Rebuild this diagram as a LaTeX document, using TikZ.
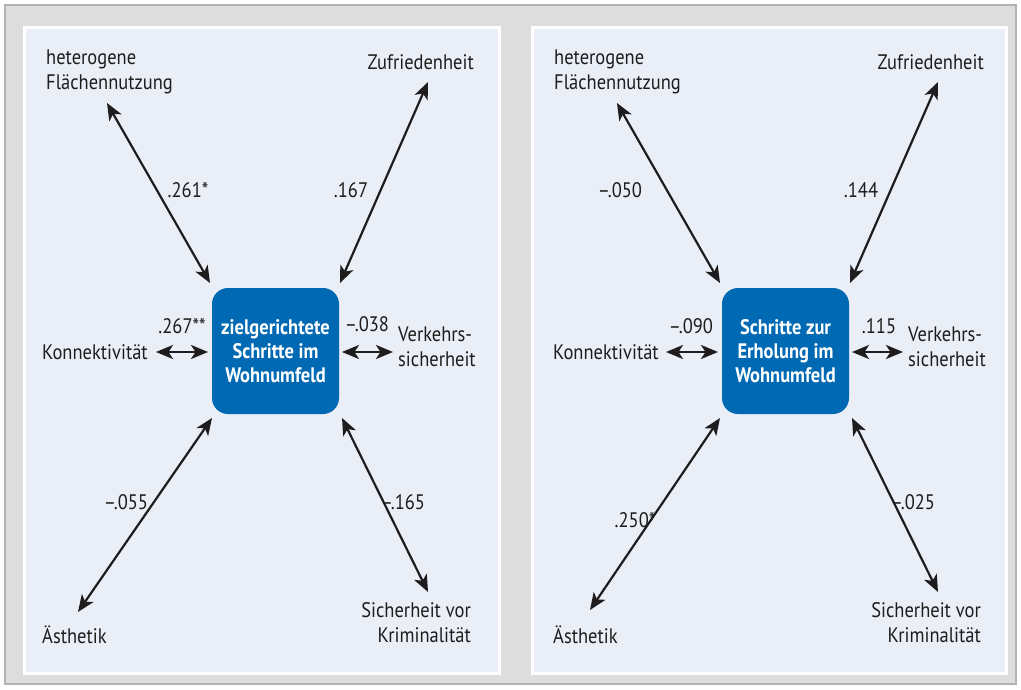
\documentclass[tikz,border=0pt]{standalone}
\usepackage{fontspec}
\setmainfont{PT Sans}[FakeStretch=0.88]
\usetikzlibrary{arrows.meta}
\definecolor{framegray}{HTML}{B2B2B2}
\definecolor{backgray}{HTML}{DDDDDD}
\definecolor{panelblue}{HTML}{E9EEF7}
\definecolor{boxblue}{HTML}{0069B4}
\definecolor{inkgray}{HTML}{1E1C1C}
\tikzset{
  panel/.style={draw=white, line width=3pt, fill=panelblue},
  centerbox/.style={fill=boxblue, rounded corners=16pt, minimum width=127pt, minimum height=126pt,
    text=white, align=center, font=\bfseries\fontsize{21}{24}\selectfont, inner sep=0pt},
  lbl/.style={text=inkgray, font=\fontsize{21}{25}\selectfont, inner sep=0pt},
  coef/.style={text=inkgray, font=\fontsize{21}{24}\selectfont, inner sep=0pt},
  link/.style={draw=inkgray, line width=2.2pt,
    {Stealth[length=17pt,width=14pt,inset=4.5pt]}-{Stealth[length=17pt,width=14pt,inset=4.5pt]}}
}
\begin{document}
\begin{tikzpicture}[x=1pt,y=-1pt]
\useasboundingbox (0,0) rectangle (1021,689);
\fill[white] (0,0) rectangle (1021,689);
\draw[framegray, fill=backgray, line width=2.5pt] (5,5) rectangle (1016,684);

% ---------- left panel ----------
\draw[panel] (24,27) rectangle (499,673);
\node[centerbox] (L) at (275.5,351) {zielgerichtete\\Schritte im\\Wohnumfeld};

\node[lbl, anchor=west, align=left] (Lhet) at (46,72) {heterogene\\Flächennutzung};
\node[lbl, anchor=east] (Lzuf) at (474,62) {Zufriedenheit};
\node[lbl, anchor=west] (Lkon) at (42,352) {Konnektivität};
\node[lbl, anchor=west, align=left] (Lver) at (398,347) {Verkehrs-\\sicherheit};
\node[lbl, anchor=west] (Laes) at (42,635) {Ästhetik};
\node[lbl, anchor=east, align=right] (Lsic) at (471,623) {Sicherheit vor\\Kriminalität};

\coordinate (Lhet1) at (107,103);  \coordinate (Lhet2) at (210,283);
\coordinate (Lzuf1) at (428,82);   \coordinate (Lzuf2) at (340,283);
\coordinate (Lkon1) at (156,352);  \coordinate (Lkon2) at (208,352);
\coordinate (Lver1) at (342,352);  \coordinate (Lver2) at (393,352);
\coordinate (Laes1) at (212,418);  \coordinate (Laes2) at (78,612);
\coordinate (Lsic1) at (342,418);  \coordinate (Lsic2) at (428,592);

\draw[link] (Lhet1) -- (Lhet2);
\draw[link] (Lzuf1) -- (Lzuf2);
\draw[link] (Lkon1) -- (Lkon2);
\draw[link] (Lver1) -- (Lver2);
\draw[link] (Laes1) -- (Laes2);
\draw[link] (Lsic1) -- (Lsic2);

\node[coef] (cLhet) at (188,190) {.261*};
\node[coef] (cLzuf) at (351,190) {.167};
\node[coef] (cLkon) at (182,326) {.267**};
\node[coef] (cLver) at (367,324) {–.038};
\node[coef] (cLaes) at (126,502) {–.055};
\node[coef] (cLsic) at (403,502) {–.165};

% ---------- right panel ----------
\draw[panel] (532,27) rectangle (1006,673);
\node[centerbox] (R) at (785.5,351) {Schritte zur\\Erholung im\\Wohnumfeld};

\node[lbl, anchor=west, align=left] (Rhet) at (554,72) {heterogene\\Flächennutzung};
\node[lbl, anchor=east] (Rzuf) at (984,62) {Zufriedenheit};
\node[lbl, anchor=west] (Rkon) at (553,352) {Konnektivität};
\node[lbl, anchor=west, align=left] (Rver) at (908,347) {Verkehrs-\\sicherheit};
\node[lbl, anchor=west] (Raes) at (553,635) {Ästhetik};
\node[lbl, anchor=east, align=right] (Rsic) at (981,623) {Sicherheit vor\\Kriminalität};

\coordinate (Rhet1) at (617,103);  \coordinate (Rhet2) at (720,283);
\coordinate (Rzuf1) at (938,82);   \coordinate (Rzuf2) at (850,283);
\coordinate (Rkon1) at (666,352);  \coordinate (Rkon2) at (718,352);
\coordinate (Rver1) at (852,352);  \coordinate (Rver2) at (903,352);
\coordinate (Raes1) at (720,418);  \coordinate (Raes2) at (590,610);
\coordinate (Rsic1) at (852,418);  \coordinate (Rsic2) at (938,592);

\draw[link] (Rhet1) -- (Rhet2);
\draw[link] (Rzuf1) -- (Rzuf2);
\draw[link] (Rkon1) -- (Rkon2);
\draw[link] (Rver1) -- (Rver2);
\draw[link] (Raes1) -- (Raes2);
\draw[link] (Rsic1) -- (Rsic2);

\node[coef] (cRhet) at (620,190) {–.050};
\node[coef] (cRzuf) at (861,190) {.144};
\node[coef] (cRkon) at (691,326) {–.090};
\node[coef] (cRver) at (879,326) {.115};
\node[coef] (cRaes) at (635,520) {.250*};
\node[coef] (cRsic) at (913,502) {–.025};
\end{tikzpicture}
\end{document}
